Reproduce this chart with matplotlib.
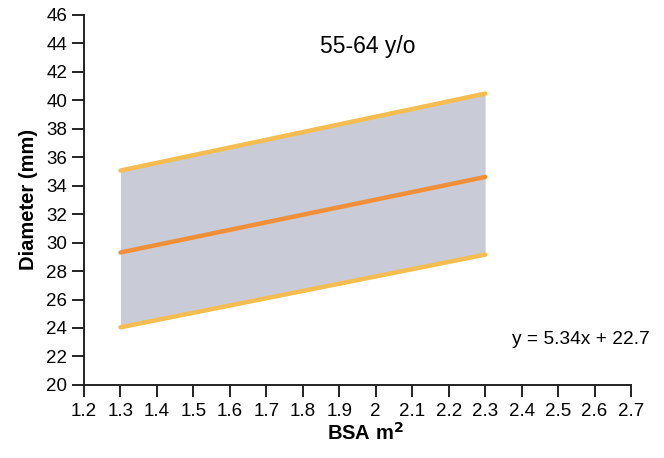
import numpy as np
import matplotlib.pyplot as plt

plt.rcParams['font.family'] = ['Liberation Sans', 'DejaVu Sans']

bsa = [1.3, 2.3]
upper = [35.05, 40.45]
mean = [29.3, 34.6]
lower = [24.05, 29.15]

xticks = [1.2, 1.3, 1.4, 1.5, 1.6, 1.7, 1.8, 1.9, 2.0, 2.1, 2.2, 2.3, 2.4, 2.5, 2.6, 2.7]
xticklabels = ['1.2', '1.3', '1.4', '1.5', '1.6', '1.7', '1.8', '1.9', '2',
               '2.1', '2.2', '2.3', '2.4', '2.5', '2.6', '2.7']
yticks = list(range(20, 47, 2))

fig = plt.figure(figsize=(6.64, 4.58), dpi=100)
ax = fig.add_axes([0.1265, 0.1594, 0.8238, 0.8089])

# shaded range between the upper and lower limits, mean line on top
ax.fill_between(bsa, lower, upper, color='#c9ccd6', linewidth=0, zorder=1)
ax.plot(bsa, upper, color='#f5bd4f', linewidth=3.2, solid_capstyle='round', zorder=3)
ax.plot(bsa, lower, color='#f5bd4f', linewidth=3.2, solid_capstyle='round', zorder=3)
ax.plot(bsa, mean, color='#f08f38', linewidth=3.2, solid_capstyle='round', zorder=3)

ax.set_xlim(1.2, 2.7)
ax.set_ylim(20, 46)
ax.set_xticks(xticks)
ax.set_xticklabels(xticklabels)
ax.set_yticks(yticks)

for side in ['top', 'right']:
    ax.spines[side].set_visible(False)
for side in ['left', 'bottom']:
    ax.spines[side].set_linewidth(1.4)
    ax.spines[side].set_color('#222222')
ax.tick_params(direction='out', length=8.5, width=1.4, color='#222222', labelsize=13.5)
ax.tick_params(axis='x', pad=4.5)
ax.tick_params(axis='y', pad=3.6)

ax.set_xlabel('BSA m$^\\mathbf{2}$', fontsize=14.5, fontweight='bold', labelpad=1, x=0.514)
ax.set_ylabel('Diameter (mm)', fontsize=14.5, fontweight='bold', labelpad=6)

ax.text(1.978, 43.75, '55-64 y/o', fontsize=16.5, ha='center', va='center')
ax.text(2.563, 23.17, 'y = 5.34x + 22.7', fontsize=13.8, ha='center', va='center')

plt.savefig('out.png', dpi=100, facecolor='w')
